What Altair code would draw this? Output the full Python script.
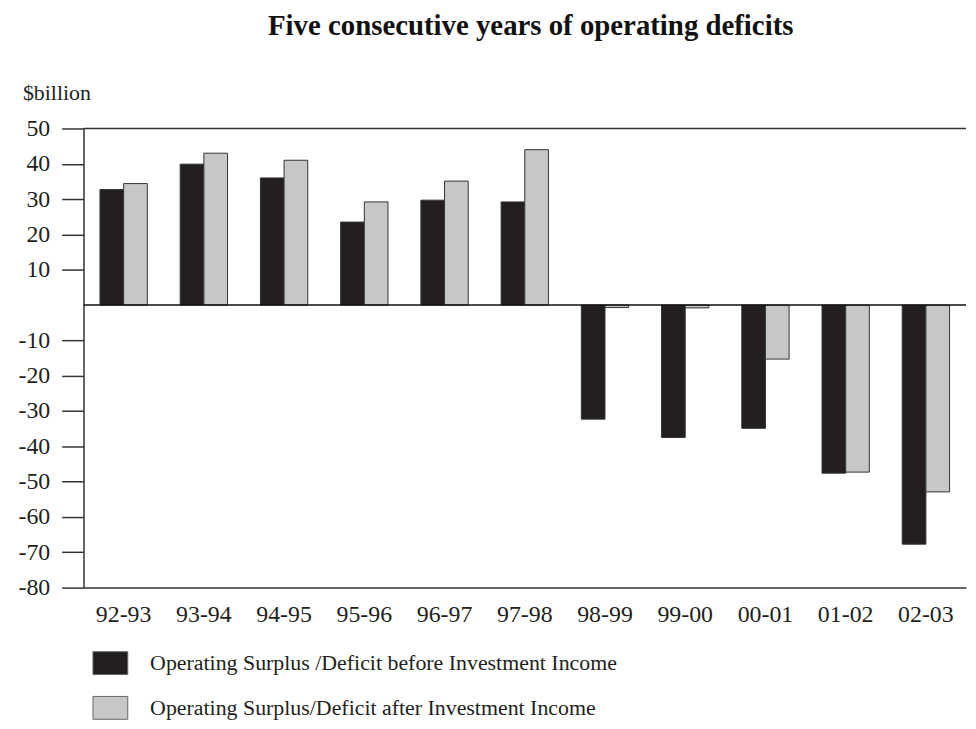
import altair as alt
import pandas as pd

years = ["92-93", "93-94", "94-95", "95-96", "96-97", "97-98",
         "98-99", "99-00", "00-01", "01-02", "02-03"]
before_inv = [32.7, 39.9, 36.0, 23.5, 29.7, 29.2, -32.3, -37.5, -34.9, -47.6, -67.7]
after_inv = [34.4, 43.0, 41.0, 29.2, 35.1, 44.0, -0.7, -0.8, -15.3, -47.3, -52.9]
series_names = ["Operating Surplus /Deficit before Investment Income",
                "Operating Surplus/Deficit after Investment Income"]
y_ticks = [-80, -70, -60, -50, -40, -30, -20, -10, 10, 20, 30, 40, 50]
title_text = "Five consecutive years of operating deficits"
unit_text = "$billion"

rows = []
for i, y in enumerate(years):
    rows.append({"year": y, "series": series_names[0], "value": before_inv[i]})
    rows.append({"year": y, "series": series_names[1], "value": after_inv[i]})
df = pd.DataFrame(rows)

FONT = "Liberation Serif"
DARK = "#231f20"
GREY = "#c6c7c8"

rect_path = "M-1,-0.657L1,-0.657L1,0.657L-1,0.657Z"

yscale = alt.Scale(domain=[-80, 50], nice=False, zero=False)
yaxis = alt.Axis(title=None, values=y_ticks, labelFont=FONT, labelFontSize=24,
                 labelColor=DARK, tickSize=22, tickColor="#333333", tickWidth=1.5,
                 labelPadding=12, domainColor="#333333", domainWidth=1.5,
                 labelOverlap=False, labelBound=False, grid=False,
                 labelExpr="datum.value < 0 ? '-' + abs(datum.value) : '' + datum.value")

bars = alt.Chart(df).mark_bar(stroke="#333333", strokeWidth=1).encode(
    x=alt.X("year:N", sort=years,
            scale=alt.Scale(paddingInner=0.41, paddingOuter=0.205),
            axis=alt.Axis(title=None, labelAngle=0, labelFont=FONT, labelFontSize=24,
                          labelColor=DARK, ticks=False, labelPadding=15,
                          labelOverlap=False,
                          domainColor="#333333", domainWidth=1.5)),
    xOffset=alt.XOffset("series:N", sort=series_names,
                        scale=alt.Scale(paddingInner=0, paddingOuter=0)),
    y=alt.Y("value:Q", scale=yscale, axis=yaxis),
    color=alt.Color("series:N", sort=series_names,
                    scale=alt.Scale(domain=series_names, range=[DARK, GREY]),
                    legend=alt.Legend(title=None, orient="none", legendX=9, legendY=520,
                                      symbolType=rect_path, symbolSize=1225,
                                      symbolStrokeColor="#666666", symbolStrokeWidth=1,
                                      labelFont=FONT, labelFontSize=22, labelColor=DARK,
                                      labelLimit=0, labelOffset=22, rowPadding=13, padding=0,
                                      direction="vertical", columns=1)),
)

zero_rule = alt.Chart(pd.DataFrame({"value": [0]})).mark_rule(color="#111111", strokeWidth=1.5).encode(
    y=alt.Y("value:Q", scale=yscale, axis=yaxis))
top_rule = alt.Chart(pd.DataFrame({"value": [50]})).mark_rule(color="#333333", strokeWidth=1.5).encode(
    y=alt.Y("value:Q", scale=yscale, axis=yaxis))

title = alt.Chart(pd.DataFrame({"t": [title_text]})).mark_text(
    font=FONT, fontSize=29, fontWeight="bold", color="#111111", align="center",
    baseline="alphabetic"
).encode(text="t:N", x=alt.value(450), y=alt.value(-94))

unit = alt.Chart(pd.DataFrame({"t": [unit_text]})).mark_text(
    font=FONT, fontSize=22, color=DARK, align="left", baseline="alphabetic"
).encode(text="t:N", x=alt.value(-61), y=alt.value(-29))

chart = alt.layer(bars, zero_rule, top_rule, title, unit).properties(
    width=888, height=462,
    autosize=alt.AutoSizeParams(type="none"),
    padding={"left": 76, "top": 119, "right": 2, "bottom": 132},
).configure_view(stroke=None).configure_axis(labelOverlap=False)

chart.save("out.html", embed_options={"renderer": "svg", "actions": False})
